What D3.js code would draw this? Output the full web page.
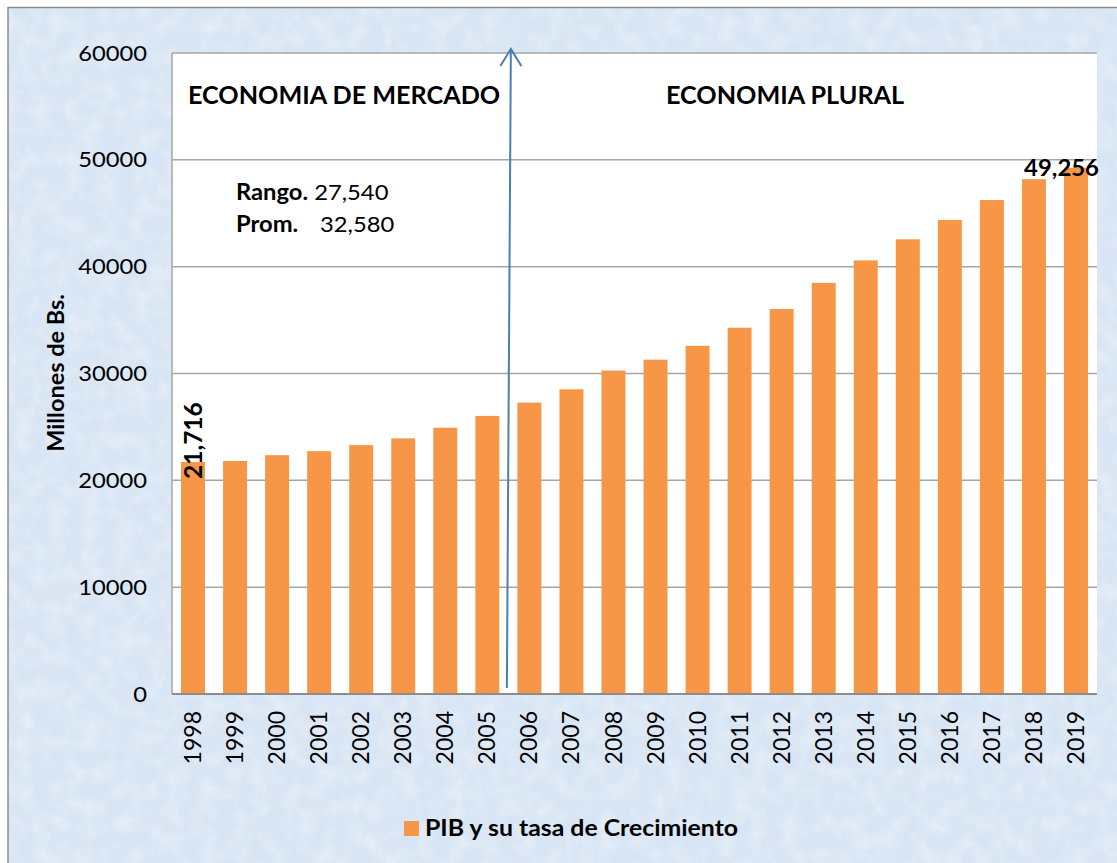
<!DOCTYPE html>
<html><head><meta charset="utf-8">
<script src="https://cdn.jsdelivr.net/npm/d3@7"></script>
<style>html,body{margin:0;padding:0;background:#fff}svg{display:block}</style>
</head><body>
<svg id="c" width="1117" height="863"></svg>
<script>
const years = ["1998","1999","2000","2001","2002","2003","2004","2005","2006","2007","2008","2009","2010","2011","2012","2013","2014","2015","2016","2017","2018","2019"];
const pib = [21716,21809,22356,22733,23298,23929,24928,26030,27279,28524,30278,31294,32586,34281,36037,38487,40588,42560,44374,46236,48189,49256];
const yTicks = [0,10000,20000,30000,40000,50000,60000];
const seriesName = "PIB y su tasa de Crecimiento";
const eraLabels = ["ECONOMIA DE MERCADO","ECONOMIA PLURAL"];
const statNames = ["Rango.","Prom."];
const statValues = ["27,540","32,580"];
const yTitle = "Millones de Bs.";

const svg = d3.select("#c");
const FONT = "Lato, 'Open Sans', sans-serif";
const W = 1117, H = 863;
const plot = {l:172, t:53, r:1097, b:694};

// horizontal text helper (slightly widened like the source)
function hText(parent, x0, y0, str, size, sx, weight, anchor){
  return parent.append("text").attr("transform",`translate(${x0},${y0}) scale(${sx},1)`)
    .attr("font-family",FONT).attr("font-size",size).attr("font-weight",weight||"normal")
    .attr("text-anchor",anchor||"start").attr("fill","#000").text(str);
}

// textured light-blue background
const defs = svg.append("defs");
const f = defs.append("filter").attr("id","tex").attr("x",0).attr("y",0).attr("width","100%").attr("height","100%");
f.append("feTurbulence").attr("type","fractalNoise").attr("baseFrequency","0.06").attr("numOctaves",4).attr("seed",3).attr("result","n");
f.append("feColorMatrix").attr("in","n").attr("type","matrix")
 .attr("values","0 0 0 0 1  0 0 0 0 1  0 0 0 0 1  1.2 0 0 0 -0.45").attr("result","w");
f.append("feComposite").attr("in","w").attr("in2","SourceGraphic").attr("operator","in");
svg.append("rect").attr("x",8).attr("y",7).attr("width",W-8).attr("height",H-7).attr("fill","#d8e5f4");
svg.append("rect").attr("x",8).attr("y",7).attr("width",W-8).attr("height",H-7).attr("fill","#d8e5f4").attr("filter","url(#tex)").attr("opacity",0.55);
svg.append("line").attr("x1",8).attr("x2",W).attr("y1",7.5).attr("y2",7.5).attr("stroke","#8c8c8c").attr("stroke-width",1.5);
svg.append("line").attr("x1",8).attr("x2",8).attr("y1",7).attr("y2",H).attr("stroke","#8c8c8c").attr("stroke-width",1.5);

// plot area
svg.append("rect").attr("x",plot.l).attr("y",plot.t).attr("width",plot.r-plot.l).attr("height",plot.b-plot.t).attr("fill","#fff");

const x = d3.scaleBand().domain(years).range([plot.l, plot.r]).paddingInner(0.43).paddingOuter(0.215);
const y = d3.scaleLinear().domain([0,60000]).range([plot.b, plot.t]);

// gridlines
svg.append("g").selectAll("line").data(yTicks.filter(d=>d>0)).join("line")
  .attr("x1",plot.l).attr("x2",plot.r).attr("y1",d=>y(d)).attr("y2",d=>y(d))
  .attr("stroke","#a6a6a6").attr("stroke-width",1.5);

// bars
svg.append("g").selectAll("rect").data(pib).join("rect")
  .attr("x",(d,i)=>x(years[i])).attr("width",x.bandwidth())
  .attr("y",d=>y(d)).attr("height",d=>y(0)-y(d)).attr("fill","#f79646");

// axes lines
svg.append("line").attr("x1",plot.l).attr("x2",plot.l).attr("y1",plot.t).attr("y2",plot.b).attr("stroke","#a6a6a6").attr("stroke-width",1.5);
svg.append("line").attr("x1",plot.l).attr("x2",plot.r).attr("y1",plot.b).attr("y2",plot.b).attr("stroke","#8c8c8c").attr("stroke-width",2);

// y axis tick labels
const yAxis = d3.axisLeft(y).tickValues(yTicks).tickFormat(d3.format("d")).tickSize(0).tickPadding(0);
const ga = svg.append("g").attr("transform",`translate(${plot.l},0)`).call(yAxis);
ga.select(".domain").remove();
ga.selectAll("text").attr("font-family",FONT).attr("font-size",22).attr("fill","#000")
  .attr("x",null).attr("transform","translate(-25,0) scale(1.08,1)");

// x axis labels (rotated)
const xAxis = d3.axisBottom(x).tickSize(0).tickPadding(0);
const gx = svg.append("g").attr("transform",`translate(0,${plot.b})`).call(xAxis);
gx.select(".domain").remove();
gx.selectAll("text").attr("font-family",FONT).attr("font-size",23).attr("fill","#000")
  .attr("text-anchor","end").attr("dy","0.35em")
  .attr("transform","translate(0,17) rotate(-90)");

// y title
svg.append("text").attr("transform",`translate(64,373) rotate(-90)`).attr("text-anchor","middle")
  .attr("font-family",FONT).attr("font-weight","bold").attr("font-size",23.5).text(yTitle);

// data labels
const fmt = d3.format(",");
svg.append("text").attr("transform",`translate(${x(years[0])+x.bandwidth()/2+9},${y(pib[0])+17}) rotate(-90)`)
  .attr("font-family",FONT).attr("font-weight","bold").attr("font-size",24.5).text(fmt(pib[0]));
hText(svg, plot.r+2, y(pib[pib.length-1])+8, fmt(pib[pib.length-1]), 23, 1.04, "bold", "end");

// era labels
hText(svg, 188, 104, eraLabels[0], 24, 1.05, "bold");
hText(svg, 666, 104, eraLabels[1], 24, 1.05, "bold");

// stats
const sx = 1.08;
const t1 = svg.append("text").attr("transform",`translate(236,200) scale(${sx},1)`).attr("font-family",FONT).attr("font-size",22);
t1.append("tspan").attr("font-weight","bold").text(statNames[0]);
t1.append("tspan").text(" "+statValues[0]);
const t2 = svg.append("text").attr("transform",`translate(236,232) scale(${sx},1)`).attr("font-family",FONT).attr("font-size",22);
t2.append("tspan").attr("font-weight","bold").text(statNames[1]);
t2.append("tspan").attr("x",(320-236)/sx).text(statValues[1]);

// arrow at boundary between 2005 and 2006
const bx = (x("2005")+x.bandwidth() + x("2006"))/2;
const ac = "#4a7ebb";
svg.append("line").attr("x1",bx-1.5).attr("y1",688).attr("x2",bx+2.5).attr("y2",49).attr("stroke",ac).attr("stroke-width",2);
svg.append("polyline").attr("points",`${bx-8},${66} ${bx+2.5},${49} ${bx+13},${66}`).attr("fill","none").attr("stroke",ac).attr("stroke-width",2);

// legend
svg.append("rect").attr("x",404).attr("y",821).attr("width",15).attr("height",15).attr("fill","#f79646");
hText(svg, 425, 836, seriesName, 23, 1.08, "bold");
</script>
</body></html>
